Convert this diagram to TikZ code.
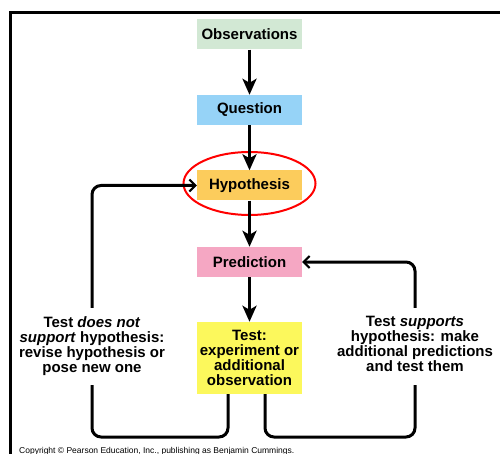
\documentclass[tikz,border=0pt]{standalone}
\usepackage{fontspec}
\setmainfont{Liberation Sans}
\usetikzlibrary{arrows.meta}
\definecolor{verdeObs}{RGB}{210,232,212}
\definecolor{azulPreg}{RGB}{150,211,247}
\definecolor{naranjaHip}{RGB}{252,204,92}
\definecolor{rosaPred}{RGB}{245,167,195}
\definecolor{amarilloTest}{RGB}{252,248,92}
\begin{document}
\begin{tikzpicture}[x=1pt, y=-1pt,
      caja/.style={font=\fontsize{15}{15.2}\selectfont\bfseries, align=center, inner sep=0pt, minimum width=105pt, minimum height=30pt},
      nota/.style={font=\fontsize{15}{15}\selectfont\bfseries, align=center, inner xsep=2pt, inner ysep=0pt, minimum height=77pt},
      flecha/.style={line width=3.5pt, -{Stealth[length=16pt, width=14pt, inset=4pt]}},
      linea/.style={line width=3pt, rounded corners=9pt},
      lazo/.style={linea, -{Straight Barb[length=6pt, width=12pt, line width=2pt]}}
    ]
    \useasboundingbox (0,0) rectangle (500,454);
    % --- marco ---
    \draw[line width=3pt] (10.5,470) |- (520,12.5);

    % --- cajas ---
    \node[caja, fill=verdeObs] (obs) at (249.5,34.5) {Observations};
    \node[caja, fill=azulPreg] (preg) at (249.5,110) {Question};
    \node[caja, fill=naranjaHip] (hip) at (249.5,185.5) {Hypothesis};
    \node[caja, fill=rosaPred] (pred) at (249.5,262) {Prediction};
    \node[caja, fill=amarilloTest, minimum height=72pt] (test) at (249.5,358) {Test:\\experiment or\\additional\\observation};
    \draw[red, line width=2pt] ([yshift=2pt]hip.center) ellipse [x radius=66, y radius=31.5];

    % --- notas ---
    \node[nota] (noSoporta) at (92,346.5) {Test \textit{does not}\\\textit{support} hypothesis:\\revise hypothesis or\\pose new one\strut};
    \node[nota] (soporta) at (415,346.5) {Test \textit{supports}\\hypothesis: make\\additional predictions\\and test them\strut};

    % --- flechas ---
    \draw[flecha] (obs) -- (preg);
    \draw[flecha] (preg) -- (hip);
    \draw[flecha] (hip) -- (pred);
    \draw[flecha] (pred) -- (test);

    % --- lazos ---
    \draw[linea] ([xshift=-21.5pt]test.south) -- ([xshift=-21.5pt]test.south |- 0,437) -| (noSoporta.south);
    \draw[lazo] (noSoporta.north) |- (hip.west);
    \draw[linea] ([xshift=15.5pt]test.south) -- ([xshift=15.5pt]test.south |- 0,437) -| (soporta.south);
    \draw[lazo] (soporta.north) |- (pred.east);

    \node[anchor=west, font=\fontsize{8.5}{9}\selectfont, inner sep=0pt] (copia) at (19,451) {Copyright \textcopyright{} Pearson Education, Inc., publishing as Benjamin Cummings.};
  \end{tikzpicture}
\end{document}
